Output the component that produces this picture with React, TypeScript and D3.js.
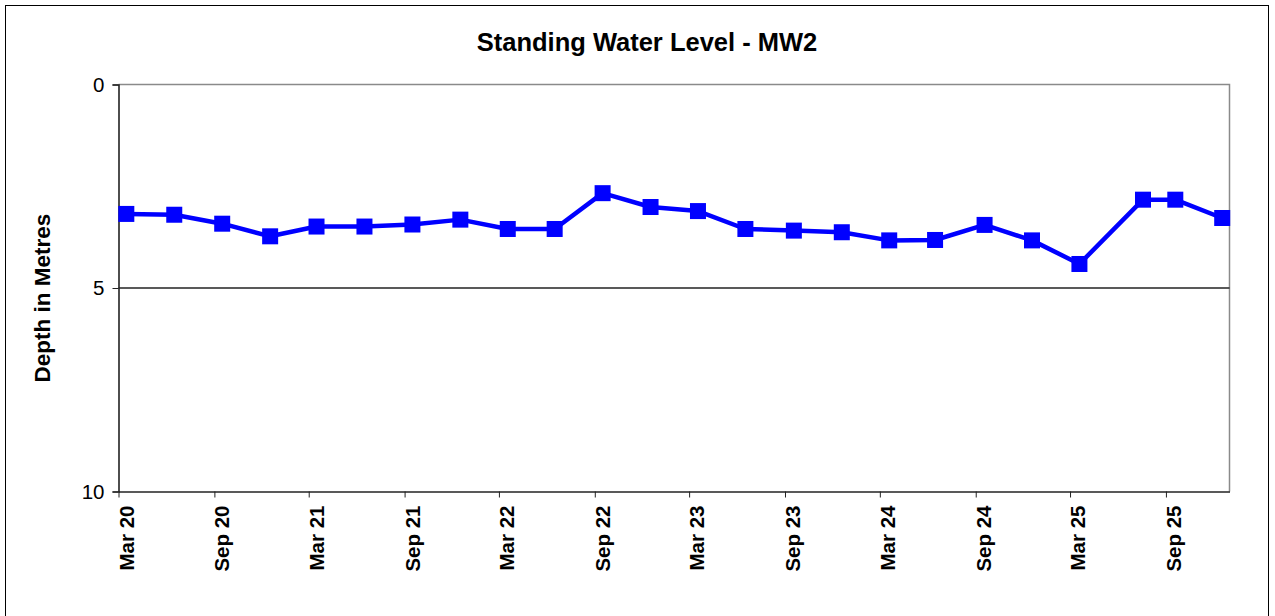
import React, { useEffect, useRef } from 'react';
import * as d3 from 'd3';

const TITLE = 'Standing Water Level - MW2';
const Y_LABEL = 'Depth in Metres';

// sampling dates and depth below surface (m)
const SAMPLE_DATES = [
  '2020-03-16', '2020-06-16', '2020-09-16', '2020-12-17',
  '2021-03-16', '2021-06-16', '2021-09-16', '2021-12-17',
  '2022-03-18', '2022-06-16', '2022-09-16', '2022-12-17',
  '2023-03-18', '2023-06-17', '2023-09-18', '2023-12-19',
  '2024-03-19', '2024-06-15', '2024-09-18', '2024-12-18',
  '2025-03-19', '2025-07-19', '2025-09-19', '2025-12-18',
];
const DEPTHS = [
  3.18, 3.2, 3.42, 3.73,
  3.49, 3.49, 3.44, 3.32,
  3.55, 3.55, 2.67, 3.01,
  3.11, 3.55, 3.59, 3.63,
  3.83, 3.82, 3.45, 3.83,
  4.41, 2.83, 2.83, 3.28,
];

const Y_TICKS = [0, 5, 10];
const X_DOMAIN = ['2020-03-01', '2026-01-01'];
const X_TICKS = [
  '2020-03-01', '2020-09-01', '2021-03-01', '2021-09-01',
  '2022-03-01', '2022-09-01', '2023-03-01', '2023-09-01',
  '2024-03-01', '2024-09-01', '2025-03-01', '2025-09-01',
];

const FONT = '"Liberation Sans", Arial, sans-serif';

const App: React.FC = () => {
  const svgRef = useRef<SVGSVGElement>(null);

  useEffect(() => {
    if (!svgRef.current) return;
    const svg = d3.select(svgRef.current);
    svg.selectAll('*').remove();

    const width = 1275;
    const height = 616;
    const left = 118.5, right = 1229.5, top = 84.5, bottom = 491.5;
    const parse = d3.timeParse('%Y-%m-%d');

    const x = d3.scaleTime()
      .domain(X_DOMAIN.map(d => parse(d)!))
      .range([left, right]);
    const y = d3.scaleLinear().domain([0, 10]).range([top, bottom]);

    const data = SAMPLE_DATES.map((d, i) => ({ date: parse(d)!, depth: DEPTHS[i] }));

    svg.append('rect')
      .attr('width', width).attr('height', height).attr('fill', '#fff');

    // outer chart frame
    svg.append('rect')
      .attr('x', 5.5).attr('y', 5.5)
      .attr('width', 1263).attr('height', 660)
      .attr('fill', 'none').attr('stroke', '#000').attr('stroke-width', 1);

    svg.append('text')
      .attr('x', 647).attr('y', 51)
      .attr('text-anchor', 'middle')
      .attr('font-family', FONT).attr('font-weight', 'bold').attr('font-size', 25.5)
      .attr('fill', '#000')
      .text(TITLE);

    // plot border: top & right in grey
    svg.append('path')
      .attr('d', `M${left},${top}H${right}V${bottom}`)
      .attr('fill', 'none').attr('stroke', '#8a8a8a').attr('stroke-width', 1.5);

    // gridlines (skip ends)
    svg.append('g')
      .selectAll('line')
      .data(Y_TICKS.filter(t => t !== 0 && t !== 10))
      .join('line')
      .attr('x1', left).attr('x2', right)
      .attr('y1', d => y(d)).attr('y2', d => y(d))
      .attr('stroke', '#222').attr('stroke-width', 1.3);

    // y axis
    const yAxis = svg.append('g')
      .attr('transform', `translate(${left},0)`)
      .call(d3.axisLeft(y).tickValues(Y_TICKS).tickSize(6).tickPadding(8).tickFormat(d3.format('d')));
    yAxis.select('.domain').attr('stroke', '#222').attr('stroke-width', 1.6);
    yAxis.selectAll('.tick line').attr('stroke', '#222');
    yAxis.selectAll('text')
      .attr('font-family', FONT).attr('font-size', 20.5).attr('fill', '#000');

    // x axis
    const fmt = d3.timeFormat('%b %y');
    const xAxis = svg.append('g')
      .attr('transform', `translate(0,${bottom})`)
      .call(d3.axisBottom(x).tickValues(X_TICKS.map(d => parse(d)!)).tickSize(6).tickSizeOuter(0).tickFormat(() => ''));
    xAxis.select('.domain').attr('stroke', '#222').attr('stroke-width', 1.6);
    xAxis.selectAll('.tick line').attr('stroke', '#222');

    svg.append('g')
      .selectAll('text')
      .data(X_TICKS.map(d => parse(d)!))
      .join('text')
      .attr('transform', d => `translate(${x(d) + 15},${bottom + 14}) rotate(-90)`)
      .attr('text-anchor', 'end')
      .attr('font-family', FONT).attr('font-weight', 'bold').attr('font-size', 20.5)
      .attr('fill', '#000')
      .text(d => fmt(d));

    // y axis title
    svg.append('text')
      .attr('transform', `translate(50,298) rotate(-90)`)
      .attr('text-anchor', 'middle')
      .attr('font-family', FONT).attr('font-weight', 'bold').attr('font-size', 22.5)
      .attr('fill', '#000')
      .text(Y_LABEL);

    // series
    const line = d3.line<{ date: Date; depth: number }>()
      .x(d => x(d.date))
      .y(d => y(d.depth));

    svg.append('path')
      .datum(data)
      .attr('d', line)
      .attr('fill', 'none')
      .attr('stroke', '#0000ff')
      .attr('stroke-width', 4.5)
      .attr('stroke-linejoin', 'round');

    const m = 16;
    svg.append('g')
      .selectAll('rect')
      .data(data)
      .join('rect')
      .attr('x', d => x(d.date) - m / 2)
      .attr('y', d => y(d.depth) - m / 2)
      .attr('width', m).attr('height', m)
      .attr('fill', '#0000ff');
  }, []);

  return (
    <svg
      ref={svgRef}
      width={1275}
      height={616}
      style={{ position: 'absolute', left: 0, top: 0, display: 'block' }}
    />
  );
};

export default App;
